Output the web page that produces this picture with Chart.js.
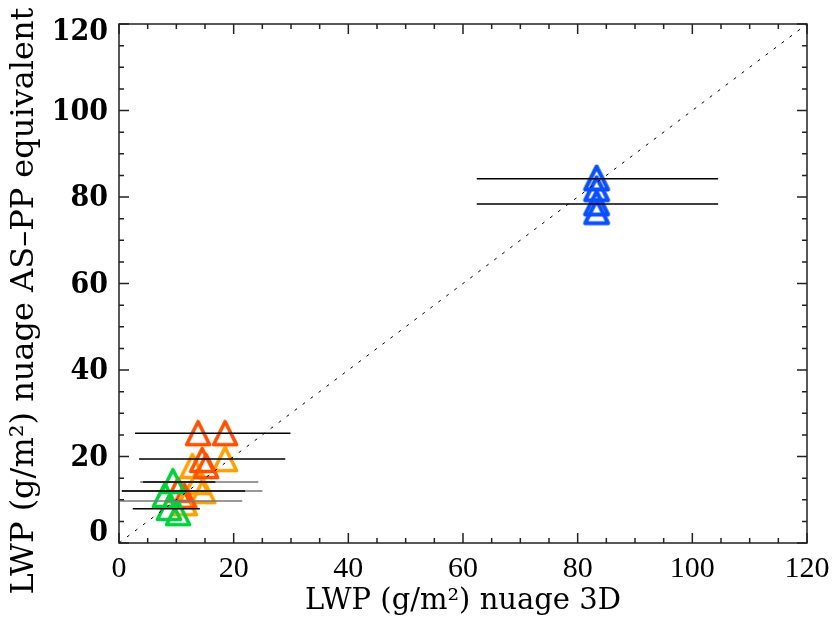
<!DOCTYPE html>
<html><head><meta charset="utf-8">
<script src="https://cdn.jsdelivr.net/npm/chart.js@4"></script>
<style>html,body{margin:0;padding:0;background:#fff}</style>
</head><body><canvas id="c" width="832" height="623"></canvas>
<script>
// ---- data ----
const xTicks = [0, 20, 40, 60, 80, 100, 120];
const yTicks = [0, 20, 40, 60, 80, 100, 120];
const xTitle = 'LWP (g/m²) nuage 3D';
const yTitle = 'LWP (g/m²) nuage AS–PP equivalent';

const greenX  = [9.4, 8.0, 8.7, 10.3];
const greenY  = [14.3, 11.1, 8.1, 6.9];
const orangeX = [18.5, 12.8, 13.6, 14.7, 11.5];
const orangeY = [19.4, 17.8, 14.1, 12.0, 9.2];
const redX    = [13.8, 18.5, 14.5, 15.2, 10.3, 11.4];
const redY    = [25.4, 25.4, 19.2, 17.8, 12.3, 10.9];
const blueX   = [83.3, 83.3, 83.3, 83.3];
const blueY   = [84.4, 81.9, 78.6, 76.6];

// horizontal error bars (dark)
const barY  = [84.2, 78.4, 25.4, 19.4, 14.1, 12.0, 7.9];
const barLo = [62.4, 62.4, 2.8, 3.5, 4.2, 0.5, 2.4];
const barHi = [104.5, 104.5, 29.9, 29.0, 16.8, 22.0, 14.1];
// horizontal error bars (light)
const bar2Y  = [14.1, 12.0, 9.7];
const bar2Lo = [3.7, 0.5, 0.2];
const bar2Hi = [24.3, 25.0, 21.5];

const diagX = [0, 120];
const diagY = [0, 120];

// ---- styling helpers ----
function tri(color, lw) {
  const c = document.createElement('canvas');
  c.width = 34; c.height = 34;
  const g = c.getContext('2d');
  g.strokeStyle = color; g.lineWidth = lw; g.lineJoin = 'round';
  g.beginPath();
  g.moveTo(17, 5.5); g.lineTo(28.5, 28.5); g.lineTo(5.5, 28.5); g.closePath();
  g.stroke();
  return c;
}
const pts = (xs, ys) => xs.map((v, i) => ({x: v, y: ys[i]}));
const markerSet = (xs, ys, color, lw) => ({
  data: pts(xs, ys), showLine: false, pointStyle: tri(color, lw),
  pointRadius: 13, pointHoverRadius: 13
});
const barSet = (y, lo, hi, color, w) => ({
  data: [{x: lo, y: y}, {x: hi, y: y}], showLine: true, borderColor: color,
  borderWidth: w, pointRadius: 0, pointHoverRadius: 0
});

const datasets = [];
bar2Y.forEach((v, i) => datasets.push(barSet(v, bar2Lo[i], bar2Hi[i], '#777', 1.5)));
barY.forEach((v, i) => datasets.push(barSet(v, barLo[i], barHi[i], '#000', 1.5)));
datasets.reverse();
datasets.push({
  data: pts(diagX, diagY), showLine: true, borderColor: '#000', borderWidth: 1,
  borderDash: [3, 7], pointRadius: 0
});
datasets.push(markerSet(greenX, greenY, '#00D23C', 3.6));
datasets.push(markerSet(redX, redY, '#FF5000', 3.6));
datasets.push(markerSet(orangeX, orangeY, '#FFA000', 3.6));
datasets.push(markerSet(blueX, blueY, '#0A50FF', 4));

const serifFont = "'DejaVu Serif', serif";
const boldFont = "'DejaVu Serif Condensed', 'DejaVu Serif', serif";

const frame = {
  id: 'frame',
  afterDraw(chart) {
    const {ctx, chartArea: a, scales: {x, y}} = chart;
    ctx.save();
    ctx.strokeStyle = '#222'; ctx.lineWidth = 1.5;
    ctx.strokeRect(a.left, a.top, a.right - a.left, a.bottom - a.top);
    ctx.beginPath();
    for (let v = 0; v <= 120; v += 5) {
      const L = (v % 20 === 0) ? 10 : 5;
      const px = x.getPixelForValue(v);
      ctx.moveTo(px, a.bottom); ctx.lineTo(px, a.bottom - L);
      ctx.moveTo(px, a.top); ctx.lineTo(px, a.top + L);
      const py = y.getPixelForValue(v);
      ctx.moveTo(a.left, py); ctx.lineTo(a.left + L, py);
      ctx.moveTo(a.right, py); ctx.lineTo(a.right - L, py);
    }
    ctx.stroke();
    ctx.fillStyle = '#000';
    ctx.font = "bold 30px " + boldFont;
    ctx.textAlign = 'right'; ctx.textBaseline = 'middle';
    yTicks.forEach(v => {
      let py = y.getPixelForValue(v) + 1.5;
      py = Math.min(Math.max(py, a.top + 8), a.bottom - 10);
      ctx.fillText(String(v), a.left - 11, py);
    });
    // y-axis title
    ctx.font = "32px " + serifFont;
    ctx.textAlign = 'center';
    ctx.translate(25, 301);
    ctx.rotate(-Math.PI / 2);
    ctx.fillText(yTitle, 0, 0);
    ctx.restore();
  }
};

new Chart(document.getElementById('c'), {
  type: 'scatter',
  data: {datasets},
  options: {
    responsive: false, animation: false, devicePixelRatio: 1,
    layout: {padding: {top: 24, right: 25, left: 0, bottom: 0}},
    plugins: {legend: {display: false}, tooltip: {enabled: false}},
    scales: {
      x: {
        type: 'linear', min: 0, max: 120,
        afterBuildTicks: s => { s.ticks = xTicks.map(v => ({value: v})); },
        afterFit: s => { s.height = 80; s.paddingLeft = 0; s.paddingRight = 0; },
        grid: {display: false, drawTicks: false}, border: {display: false},
        ticks: {font: {family: 'Liberation Serif', size: 30}, color: '#000', padding: 8, maxRotation: 0},
        title: {display: true, text: xTitle, color: '#000',
                font: {family: serifFont, size: 29}, padding: {top: 0, bottom: 4}}
      },
      y: {
        type: 'linear', min: 0, max: 120,
        afterBuildTicks: s => { s.ticks = yTicks.map(v => ({value: v})); },
        afterFit: s => { s.width = 119; },
        grid: {display: false, drawTicks: false}, border: {display: false},
        ticks: {display: false},
        title: {display: false}
      }
    }
  },
  plugins: [frame]
});
</script></body></html>
